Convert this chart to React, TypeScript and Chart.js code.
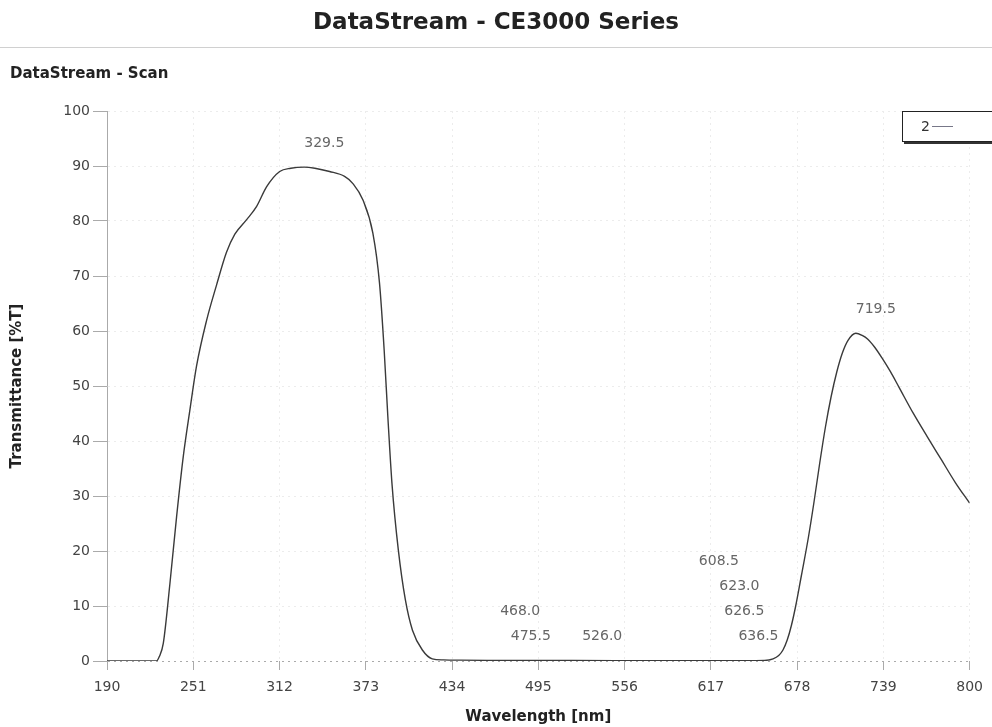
import React, { useEffect, useRef } from "react";
import { Chart, registerables } from "chart.js";

Chart.register(...registerables);

// Scan data: wavelength [nm] and transmittance [%T]
const wavelengths: number[] = [
  190, 200, 210, 220, 225, 227, 229.8, 234.5, 239.2, 243.9, 248.6, 253.3,
  260.3, 267.4, 274.5, 280.4, 288.6, 295.7, 302.8, 312.1, 320, 329.5, 337,
  347.4, 358, 363.9, 371, 378, 382.7, 386, 388.6, 391.5, 396, 401, 406, 413,
  420, 428, 440, 460, 500, 550, 600, 640, 655, 661, 665, 668, 671, 674, 677,
  681, 686, 690, 694, 698, 702, 706, 710, 714, 719.5, 724, 728, 733, 738,
  744, 750, 760, 770, 780, 790, 800,
];
const transmittance: number[] = [
  0, 0, 0, 0, 0, 0.8, 3.2, 14.1, 26.2, 37.1, 45.6, 53.6,
  61.8, 68.3, 74.3, 77.6, 80.2, 82.6, 86.2, 89, 89.6, 89.8, 89.6,
  89, 88.1, 86.8, 83.8, 77.8, 68.7, 56.5, 44.4, 32.3, 20.2, 11.1, 5.6, 2.0,
  0.4, 0.2, 0.15, 0.12, 0.1, 0.05, 0.05, 0.05, 0.1, 0.4, 1.0, 2.0, 3.8, 6.5, 10,
  15.5, 22.5, 29, 36, 42.5, 48, 52.5, 56, 58.3, 59.6, 59.2, 58.5, 57, 55.1,
  52.6, 49.8, 45.1, 40.8, 36.6, 32.4, 28.7,
];

// Peak pick labels
const peakWavelengths: number[] = [329.5, 719.5, 468.0, 475.5, 526.0, 608.5, 623.0, 626.5, 636.5];
const peakValues: number[] = [89.8, 59.6, 0.15, 0.15, 0.1, 0.05, 0.05, 0.05, 0.05];
const peakStackLevels: number[] = [0, 0, 1, 0, 0, 3, 2, 1, 0];

// Axis ticks
const xMin = 190;
const xMax = 800;
const xStep = 61;
const yMin = 0;
const yMax = 100;
const yStep = 10;

const seriesName = "2";
const mainTitle = "DataStream - CE3000 Series";
const subTitle = "DataStream - Scan";
const xTitle = "Wavelength [nm]";
const yTitle = "Transmittance [%T]";

const FONT = "'DejaVu Sans', Verdana, sans-serif";

const peakLabelPlugin = {
  id: "peakLabels",
  afterDatasetsDraw(chart: any) {
    const { ctx, scales } = chart;
    const xs = scales.x;
    const ys = scales.y;
    ctx.save();
    ctx.font = `14px ${FONT}`;
    ctx.fillStyle = "#666";
    ctx.textAlign = "left";
    ctx.textBaseline = "middle";
    peakWavelengths.forEach((w, i) => {
      const px = xs.getPixelForValue(w);
      const py = ys.getPixelForValue(peakValues[i]) - 24 - 25 * peakStackLevels[i];
      ctx.fillText(w.toFixed(1), px, py);
    });
    ctx.restore();
  },
};

export default function App() {
  const canvasRef = useRef<HTMLCanvasElement | null>(null);

  useEffect(() => {
    if (!canvasRef.current) return;
    const points = wavelengths.map((w, i) => ({ x: w, y: transmittance[i] }));
    const chart = new Chart(canvasRef.current, {
      type: "line",
      data: {
        datasets: [
          {
            label: seriesName,
            data: points,
            borderColor: "#3a3a3a",
            borderWidth: 1.4,
            pointRadius: 0,
            fill: false,
            cubicInterpolationMode: "monotone",
          },
        ],
      },
      options: {
        animation: false,
        responsive: false,
        devicePixelRatio: 1,
        layout: { padding: { left: 0, right: 21, top: 111, bottom: 0 } },
        plugins: {
          legend: { display: false },
          title: { display: false },
          tooltip: { enabled: false },
        },
        scales: {
          x: {
            type: "linear",
            min: xMin,
            max: xMax,
            afterFit: (scale: any) => {
              scale.height = 66;
            },
            ticks: {
              stepSize: xStep,
              autoSkip: false,
              maxRotation: 0,
              color: "#444",
              font: { family: FONT, size: 14 },
              padding: 9,
            },
            grid: {
              color: "#ececec",
              tickColor: "#aaa",
              tickLength: 9,
              lineWidth: 1,
            },
            border: { display: false, dash: [2, 4] },
            title: {
              display: true,
              text: xTitle,
              color: "#222",
              font: { family: FONT, size: 15, weight: "bold" },
              padding: { top: 0, bottom: 1 },
            },
          },
          y: {
            type: "linear",
            min: yMin,
            max: yMax,
            afterFit: (scale: any) => {
              scale.width = 107;
            },
            ticks: {
              stepSize: yStep,
              color: "#444",
              font: { family: FONT, size: 14 },
              padding: 3,
            },
            grid: {
              color: (ctx: any) => (ctx.tick && ctx.tick.value === 0 ? "#aaa" : "#ececec"),
              tickColor: "#aaa",
              tickLength: 14,
              lineWidth: 1,
            },
            border: { display: true, color: "#aaa", width: 1, dash: [2, 4] },
            title: {
              display: true,
              text: yTitle,
              color: "#222",
              font: { family: FONT, size: 15, weight: "bold" },
              padding: { top: 8, bottom: 0 },
            },
          },
        },
      } as any,
      plugins: [peakLabelPlugin],
    });
    return () => chart.destroy();
  }, []);

  return (
    <div
      style={{
        position: "fixed",
        left: 0,
        top: 0,
        width: 992,
        height: 727,
        background: "#fff",
        overflow: "hidden",
        fontFamily: FONT,
      }}
    >
      <canvas
        ref={canvasRef}
        width={992}
        height={727}
        style={{ position: "absolute", left: 0, top: 0, width: 992, height: 727 }}
      />
      <div
        style={{
          position: "absolute",
          left: 0,
          top: 6,
          width: 992,
          textAlign: "center",
          fontSize: 23,
          fontWeight: "bold",
          color: "#222",
          lineHeight: "30px",
        }}
      >
        {mainTitle}
      </div>
      <div
        style={{
          position: "absolute",
          left: 0,
          top: 47,
          width: 992,
          height: 1,
          background: "#d0d0d0",
        }}
      />
      <div
        style={{
          position: "absolute",
          left: 10,
          top: 63,
          fontSize: 15,
          fontWeight: "bold",
          color: "#222",
          lineHeight: "20px",
        }}
      >
        {subTitle}
      </div>
      <div
        style={{
          position: "absolute",
          left: 902,
          top: 111,
          width: 100,
          height: 29,
          border: "1px solid #222",
          boxShadow: "2px 2px 0 #333",
          background: "#fff",
        }}
      >
        <span
          style={{
            position: "absolute",
            left: 18,
            top: 5,
            fontSize: 14,
            color: "#333",
            lineHeight: "18px",
          }}
        >
          {seriesName}
        </span>
        <span
          style={{
            position: "absolute",
            left: 29,
            top: 14,
            width: 21,
            height: 1,
            background: "#777788",
          }}
        />
      </div>
    </div>
  );
}
